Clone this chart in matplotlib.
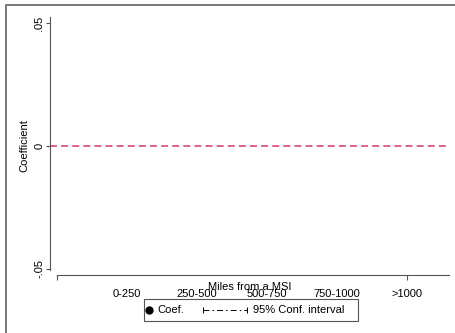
import numpy as np
import matplotlib
matplotlib.use("Agg")
import matplotlib.pyplot as plt
from matplotlib.patches import Rectangle
from matplotlib.lines import Line2D

plt.rcParams["font.family"] = ["Liberation Sans", "DejaVu Sans"]
plt.rcParams["lines.scale_dashes"] = False

# distance bins (x positions 1..5) and estimates (none fall in range / not estimated)
categories = ["0-250", "250-500", "500-750", "750-1000", ">1000"]
positions = [1, 2, 3, 4, 5]
coef = [np.nan, np.nan, np.nan, np.nan, np.nan]
ci_low = [np.nan, np.nan, np.nan, np.nan, np.nan]
ci_high = [np.nan, np.nan, np.nan, np.nan, np.nan]
yticks = [-0.05, 0, 0.05]
ytick_labels = ["-.05", "0", ".05"]

W, H = 455, 333
fig = plt.figure(figsize=(W / 100, H / 100), dpi=100)


def fx(x):
    return x / W


def fy(y):
    return 1 - y / H


# outer graph region border (runs off the right and bottom edge)
fig.patches.append(Rectangle((fx(5.5), fy(340)), fx(470), fy(5.5) - fy(340),
                             transform=fig.transFigure, fill=False,
                             edgecolor="#6e6e6e", lw=1.3))

ax = fig.add_axes([fx(50), fy(275), fx(449) - fx(50), fy(17) - fy(275)])
ax.set_xlim(-0.1, 5.6)
ax.set_ylim(-0.05244, 0.05244)

ax.plot(positions, coef, "o", color="black", ms=5)
for p, lo, hi in zip(positions, ci_low, ci_high):
    ax.plot([p, p], [lo, hi], color="black", lw=0.8, ls=(0, (4.3, 2.2, 1.1, 2.2)))

ax.axhline(0, color="#d4376b", lw=1.1, ls=(0, (5, 3)))

for s in ["top", "right"]:
    ax.spines[s].set_visible(False)
for s in ["left", "bottom"]:
    ax.spines[s].set_color("#555555")
    ax.spines[s].set_linewidth(0.8)
ax.spines["left"].set_bounds(-0.0504, 0.05244)
ax.spines["bottom"].set_bounds(0, 5.6)

ax.set_yticks(yticks, ytick_labels)
ax.tick_params(axis="y", length=3, width=0.8, color="#555555", pad=1.2,
               labelsize=8, labelrotation=90)
for t in ax.get_yticklabels():
    t.set_va("center")

ax.xaxis.remove_overlapping_locs = False
ax.set_xticks(positions, categories)
ax.set_xticks([0, 5], minor=True)
ax.tick_params(axis="x", which="major", length=0, pad=10, labelsize=8)
ax.tick_params(axis="x", which="minor", length=3.6, width=0.8, color="#555555")

ax.set_xlabel("Miles from a MSI", fontsize=8, va="center")
ax.xaxis.set_label_coords(0.5, (275 - 287) / 258)
ax.set_ylabel("Coefficient", fontsize=8, va="center")
ax.yaxis.set_label_coords((24.5 - 50) / 399, 0.5)

# legend box drawn in figure pixels
fig.patches.append(Rectangle((fx(143.5), fy(321)), fx(358) - fx(143.5), fy(298.5) - fy(321),
                             transform=fig.transFigure, fill=False,
                             edgecolor="#555555", lw=0.8))
ly = fy(310)
fig.lines.append(Line2D([fx(149)], [ly], marker="o", ms=5, color="black",
                        transform=fig.transFigure))
fig.text(fx(157), ly, "Coef.", fontsize=8, va="center", ha="left")
fig.lines.append(Line2D([fx(203), fx(247)], [ly, ly], color="black", lw=0.7,
                        ls=(0, (4.3, 2.2, 1.1, 2.2)), transform=fig.transFigure))
fig.lines.append(Line2D([fx(203), fx(247)], [ly, ly], ls="none", marker="|", ms=4.5,
                        mew=0.7, color="black", transform=fig.transFigure))
fig.text(fx(253), ly, "95% Conf. interval", fontsize=8, va="center", ha="left")

fig.savefig("out.png", dpi=100)
